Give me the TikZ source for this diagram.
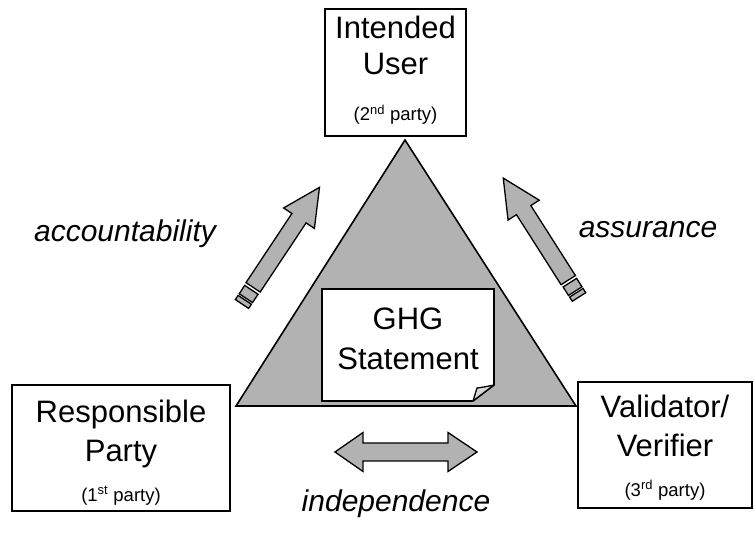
\documentclass[tikz,border=0pt]{standalone}
\usepackage{fontspec}
\setmainfont{Liberation Sans}
\usepackage{tikz}
\definecolor{shade}{gray}{0.70}
\definecolor{flapcol}{gray}{0.84}
\tikzset{
  big/.style={font=\fontsize{31}{32}\selectfont,anchor=base,inner sep=0pt},
  small/.style={font=\fontsize{18.5}{19}\selectfont,anchor=base,inner sep=0pt},
  verb/.style={font=\fontsize{30}{31}\selectfont\itshape,anchor=base,inner sep=0pt},
  boxline/.style={draw=black,line width=1.6pt,fill=white},
  fat/.style={draw=black,line width=1.3pt,fill=shade,line join=miter},
}

\begin{document}
\begin{tikzpicture}[x=1pt,y=1pt]
  \useasboundingbox (0,0) rectangle (754,535);
  % triangle
  \draw[fat,line width=1.6pt] (236,129) -- (405,395) -- (576,129) -- cycle;
  % statement sheet with folded corner
  \draw[boxline] (322,246) -- (494,246) -- (494,150) -- (473,134) -- (322,134) -- cycle;
  \draw[draw=black,line width=1.3pt,fill=flapcol,line join=round] (473,134) -- (477,147) .. controls (484,148) .. (494,150) -- cycle;
  \node[big] (ghg) at (408,205) {GHG};
  \node[big] (stmt) at (408,165) {Statement};
  % parties
  \draw[boxline] (325,526) rectangle (466,399);
  \node[big] (iu1) at (395.5,496) {Intended};
  \node[big] (iu2) at (395.5,460) {User};
  \node[small] (iu3) at (395.5,414) {(2\textsuperscript{nd} party)};
  \draw[boxline] (12,150) rectangle (230,24);
  \node[big] (rp1) at (121,112) {Responsible};
  \node[big] (rp2) at (121,73) {Party};
  \node[small] (rp3) at (121,34) {(1\textsuperscript{st} party)};
  \draw[boxline] (578,153) rectangle (752,27);
  \node[big] (vv1) at (665,117) {Validator/};
  \node[big] (vv2) at (665,78) {Verifier};
  \node[small] (vv3) at (665,39) {(3\textsuperscript{rd} party)};
  % arrows
  \begin{scope}[shift={(242,231)},rotate=56.4]
    \draw[fat] (0,-8) rectangle (5,8);
    \draw[fat] (7,-8) rectangle (17,8);
    \draw[fat] (20,-8.5) -- (103,-8.5) -- (103,-18.5) -- (140,0) -- (103,18.5) -- (103,8.5) -- (20,8.5) -- cycle;
  \end{scope}
  \begin{scope}[shift={(579,238)},rotate=122.5]
    \draw[fat] (0,-8) rectangle (5,8);
    \draw[fat] (7,-8) rectangle (17,8);
    \draw[fat] (20,-8.5) -- (103,-8.5) -- (103,-18.5) -- (141,0) -- (103,18.5) -- (103,8.5) -- (20,8.5) -- cycle;
  \end{scope}
  \draw[fat] (335,83) -- (363,102.5) -- (363,92) -- (448,92) -- (448,102.5) -- (477,83)
    -- (448,63.5) -- (448,74) -- (363,74) -- (363,63.5) -- cycle;
  \node[verb] (acc) at (125,293) {accountability};
  \node[verb] (asr) at (648,297) {assurance};
  \node[verb] (ind) at (396,24) {independence};
\end{tikzpicture}
\end{document}
